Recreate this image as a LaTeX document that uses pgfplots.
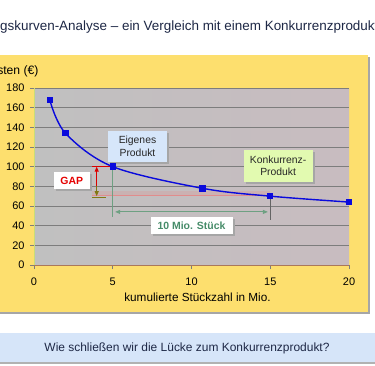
\documentclass[border=0pt]{standalone}
\usepackage{pgfplots}
\pgfplotsset{compat=1.18}
\usepackage{fontspec}
\setmainfont{Liberation Sans}
\usetikzlibrary{arrows.meta,calc}
\definecolor{yel}{RGB}{253,223,110}
\definecolor{titc}{RGB}{30,40,70}
\definecolor{lblue}{RGB}{214,229,249}
\definecolor{plotgray}{RGB}{192,192,192}
\definecolor{plotpink}{RGB}{200,188,192}
\definecolor{gridc}{RGB}{125,125,125}
\definecolor{curve}{RGB}{10,10,220}
\definecolor{eigen}{RGB}{214,230,250}
\definecolor{konk}{RGB}{226,250,176}
\definecolor{gtext}{RGB}{70,140,105}
\definecolor{garrow}{RGB}{110,160,130}
\definecolor{olive}{RGB}{130,120,20}
\definecolor{pinkl}{RGB}{225,140,140}
\begin{document}
\begin{tikzpicture}[x=1bp,y=1bp]
\path[use as bounding box] (0,0) rectangle (375,-366);
\clip (0,0) rectangle (375,-366);
\fill[white] (0,0) rectangle (375,-366);
% yellow panel
\fill[black!35] (-10,-57) rectangle (370,-314);
\fill[yel] (-10,-55) rectangle (368,-312);
% title
\node[anchor=base west, inner sep=0, text=titc, font=\fontsize{13.5}{16}\selectfont] at (0,-30) {gskurven-Analyse – ein Vergleich mit einem Konkurrenzprodukt};
\node[anchor=base east, inner sep=0, text=titc, font=\fontsize{13.5}{16}\selectfont] at (0,-30) {Erfahrun};
% bottom question box
\fill[black!30] (-10,-335) rectangle (380,-364);
\fill[lblue] (-10,-333) rectangle (380,-362);
\node[text=titc, font=\fontsize{12}{14}\selectfont] at (187,-348) {Wie schließen wir die Lücke zum Konkurrenzprodukt?};
\begin{axis}[
  at={(34bp,-265bp)}, anchor=south west,
  scale only axis, width=315bp, height=177bp,
  xmin=0, xmax=20, ymin=0, ymax=180,
  xtick={0,5,10,15,20}, ytick={0,20,...,180},
  xtick pos=left, ytick pos=left,
  tick align=outside, major tick length=4bp,
  tick style={gridc, line width=0.8bp},
  ymajorgrids, grid style={gridc, line width=0.9bp},
  axis line style={draw=none},
  axis background/.style={left color=plotgray, middle color=plotgray, right color=plotpink},
  /pgf/number format/assume math mode=true,
  tick label style={font=\fontsize{11}{13}\selectfont, text=black},
  yticklabel style={xshift=-2bp},
  xticklabel style={yshift=-5bp},
  xlabel={kumulierte Stückzahl in Mio.},
  ylabel={Kosten (€)},
  every axis x label/.style={at={(axis description cs:0.5,0)}, anchor=north, yshift=-24bp, xshift=6bp, font=\fontsize{11.8}{14}\selectfont},
  every axis y label/.style={at={(axis description cs:0,1)}, anchor=base east, xshift=8bp, yshift=14bp, font=\fontsize{12.2}{14}\selectfont},
  clip=false,
]
% axis lines
\draw[line width=1bp, color={rgb,255:red,200;green,220;blue,120}] (axis cs:0,0) -- (axis cs:0,180);
\draw[line width=1bp, color={rgb,255:red,170;green,120;blue,90}] (axis cs:0,0) -- (axis cs:20,0);
% pink band and line at competitor level
\fill[pinkl, opacity=0.25] (axis cs:3.7,70) rectangle (axis cs:15,75);
\draw[pinkl, line width=1bp] (axis cs:3.7,70.5) -- (axis cs:15,70.5);
\draw[olive, line width=0.8bp] (axis cs:3.7,69) -- (axis cs:4.6,69);
% red line at own level
\draw[red!85!black, line width=1bp] (axis cs:3.7,100) -- (axis cs:5,100);
% GAP arrow
\draw[red!85!black, line width=1bp, -{Triangle[length=5bp,width=4bp]}] (axis cs:3.98,80) -- (axis cs:3.98,100);
\draw[olive, line width=1bp, -{Triangle[length=5bp,width=4bp]}] (axis cs:3.98,80) -- (axis cs:3.98,70);
% verticals
\draw[garrow, line width=1bp] (axis cs:5,100) -- (axis cs:5,49);
\draw[gridc!80!black, line width=0.8bp] (axis cs:15,70) -- (axis cs:15,46);
% 10 Mio arrow
\draw[garrow, line width=0.9bp, {Triangle[length=5bp,width=4bp]}-{Triangle[length=5bp,width=4bp]}] (axis cs:5.15,54) -- (axis cs:14.85,54);
% curve
\addplot[curve, line width=1.4bp, smooth, tension=0.55, mark=square*, mark size=2.5bp, mark options={fill=curve, draw=curve}]
  coordinates {(1,168) (2,134) (5,100) (10.7,78) (15,70) (20,64)};
% boxes
\node[fill=black!35, minimum width=82bp, minimum height=17bp] at ($(axis cs:10,39.7)+(2bp,-2bp)$) {};
\node[fill=white, minimum width=82bp, minimum height=17bp, text=gtext, font=\bfseries\fontsize{10.5}{12}\selectfont] at (axis cs:10,39.7) {10 Mio. Stück};
\node[fill=black!35, minimum width=36bp, minimum height=17bp] at ($(axis cs:2.4,86)+(2bp,-2bp)$) {};
\node[fill=white, minimum width=36bp, minimum height=17bp, text=red!90!black, font=\bfseries\fontsize{10.5}{12}\selectfont] at (axis cs:2.4,86) {GAP};
\node[fill=black!35, minimum width=59bp, minimum height=31bp] at ($(axis cs:6.57,120.5)+(2bp,-2bp)$) {};
\node[fill=eigen, minimum width=59bp, minimum height=31bp, align=center, text=black!85, font=\fontsize{10.4}{12.5}\selectfont] at (axis cs:6.57,120.5) {Eigenes\\Produkt};
\node[fill=black!35, minimum width=69bp, minimum height=32bp] at ($(axis cs:15.5,100.7)+(2bp,-2bp)$) {};
\node[fill=konk, minimum width=69bp, minimum height=32bp, align=center, text=black!85, font=\fontsize{10.4}{12.5}\selectfont] at (axis cs:15.5,100.7) {Konkurrenz-\\Produkt};
\end{axis}
\end{tikzpicture}
\end{document}
